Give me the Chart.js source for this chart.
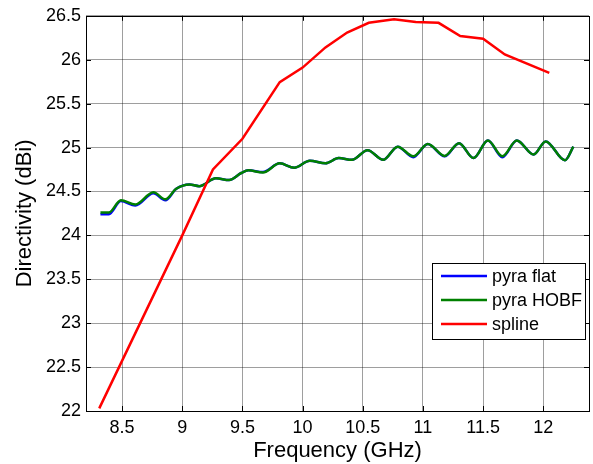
<!DOCTYPE html>
<html>
<head>
<meta charset="utf-8">
<script src="https://cdn.jsdelivr.net/npm/chart.js@4/dist/chart.umd.min.js"></script>
<style>
  html, body { margin: 0; padding: 0; background: #fff; }
  #wrap { width: 593px; height: 464px; }
</style>
</head>
<body>
<div id="wrap"><canvas id="chart" width="593" height="464"></canvas></div>
<script>
// ===== Data =====
const waveFreq = [8.32, 8.39, 8.49, 8.61, 8.76, 8.86, 8.95, 9.06, 9.14, 9.28, 9.39, 9.49, 9.55, 9.67, 9.81, 9.93, 10.06,
  10.19, 10.30, 10.41, 10.54, 10.67, 10.79, 10.92, 11.04, 11.18, 11.30, 11.42, 11.54, 11.66, 11.78, 11.92, 12.02, 12.18, 12.25];
const pyraFlat = [24.24, 24.24, 24.39, 24.34, 24.48, 24.40, 24.53, 24.58, 24.56, 24.65, 24.63, 24.71, 24.74, 24.72, 24.82, 24.77, 24.85,
  24.82, 24.88, 24.86, 24.97, 24.86, 25.01, 24.89, 25.04, 24.90, 25.05, 24.88, 25.08, 24.89, 25.08, 24.92, 25.07, 24.855, 25.01];
const pyraHOBF = [24.26, 24.26, 24.40, 24.35, 24.49, 24.41, 24.53, 24.58, 24.56, 24.65, 24.63, 24.71, 24.74, 24.715, 24.82, 24.77, 24.85,
  24.82, 24.88, 24.86, 24.97, 24.86, 25.01, 24.90, 25.04, 24.905, 25.05, 24.88, 25.08, 24.90, 25.08, 24.92, 25.07, 24.855, 25.01];
const splineFreq = [8.31, 9.0, 9.255, 9.5, 9.81, 10.0, 10.19, 10.37, 10.55, 10.76, 10.94, 11.13, 11.31, 11.5, 11.68, 12.05];
const splineVals = [22.03, 24.0, 24.75, 25.1, 25.745, 25.91, 26.14, 26.31, 26.42, 26.46, 26.43, 26.42, 26.27, 26.24, 26.06, 25.85];
const xTicks = [8.5, 9, 9.5, 10, 10.5, 11, 11.5, 12];
const yTicks = [22, 22.5, 23, 23.5, 24, 24.5, 25, 25.5, 26, 26.5];

const FONT = "'Liberation Sans', Arial, sans-serif";

function pts(xs, ys) { return xs.map((x, i) => ({ x: x, y: ys[i] })); }

// ===== Box, inward ticks and legend (MATLAB style) =====
const matlabFrame = {
  id: 'matlabFrame',
  afterDraw(chart) {
    const ctx = chart.ctx, a = chart.chartArea;
    const sx = chart.scales.x, sy = chart.scales.y;
    ctx.save();
    ctx.strokeStyle = '#000';
    ctx.lineWidth = 1;
    ctx.beginPath();
    xTicks.forEach(v => {
      const px = Math.round(sx.getPixelForValue(v)) + 0.5;
      ctx.moveTo(px, a.bottom); ctx.lineTo(px, a.bottom - 5);
      ctx.moveTo(px, a.top); ctx.lineTo(px, a.top + 5);
    });
    yTicks.forEach(v => {
      const py = Math.round(sy.getPixelForValue(v)) + 0.5;
      ctx.moveTo(a.left, py); ctx.lineTo(a.left + 5, py);
      ctx.moveTo(a.right, py); ctx.lineTo(a.right - 5, py);
    });
    ctx.stroke();
    ctx.strokeRect(Math.round(a.left) + 0.5, Math.round(a.top) + 0.5,
      Math.round(a.right - a.left), Math.round(a.bottom - a.top));

    // legend box
    const lx = 432, ly = 263, lw = 153, lh = 76;
    ctx.fillStyle = '#fff';
    ctx.fillRect(lx, ly, lw, lh);
    ctx.strokeRect(lx + 0.5, ly + 0.5, lw, lh);
    ctx.font = '18px ' + FONT;
    ctx.textBaseline = 'middle';
    chart.data.datasets.forEach((ds, i) => {
      const y = ly + 13 + i * 24;
      ctx.strokeStyle = ds.borderColor;
      ctx.lineWidth = 2.5;
      ctx.beginPath();
      ctx.moveTo(441, y); ctx.lineTo(487, y);
      ctx.stroke();
      ctx.fillStyle = '#000';
      ctx.fillText(ds.label, 492, y + 1);
    });
    ctx.restore();
  }
};

new Chart(document.getElementById('chart'), {
  type: 'line',
  data: {
    datasets: [
      { label: 'pyra flat', data: pts(waveFreq, pyraFlat), borderColor: '#0000ff', borderWidth: 2.5,
        pointRadius: 0, cubicInterpolationMode: 'monotone', order: 3 },
      { label: 'pyra HOBF', data: pts(waveFreq, pyraHOBF), borderColor: '#008000', borderWidth: 2.5,
        pointRadius: 0, cubicInterpolationMode: 'monotone', order: 2 },
      { label: 'spline', data: pts(splineFreq, splineVals), borderColor: '#ff0000', borderWidth: 2.5,
        pointRadius: 0, tension: 0, order: 1 }
    ]
  },
  options: {
    responsive: false,
    animation: false,
    layout: { padding: { top: 13, right: 4, left: 0, bottom: 0 } },
    plugins: { legend: { display: false }, tooltip: { enabled: false } },
    scales: {
      x: {
        type: 'linear', min: 8.2, max: 12.38,
        afterBuildTicks: s => { s.ticks = xTicks.map(v => ({ value: v })); },
        afterFit: s => { s.height = 53; },
        grid: { color: 'rgba(0,0,0,0.38)', drawTicks: false },
        border: { display: false },
        ticks: { color: '#000', font: { family: FONT, size: 18 }, padding: 6, maxRotation: 0,
          callback: v => String(v) },
        title: { display: true, text: 'Frequency (GHz)', color: '#000', font: { family: FONT, size: 22 }, padding: { top: 0, bottom: 0 } }
      },
      y: {
        type: 'linear', min: 22, max: 26.5,
        afterBuildTicks: s => { s.ticks = yTicks.map(v => ({ value: v })); },
        afterFit: s => { s.width = 86; },
        grid: { color: 'rgba(0,0,0,0.38)', drawTicks: false },
        border: { display: false },
        ticks: { color: '#000', font: { family: FONT, size: 18 }, padding: 5,
          callback: v => String(v) },
        title: { display: true, text: 'Directivity (dBi)', color: '#000', font: { family: FONT, size: 22 }, padding: { top: 12, bottom: 0 } }
      }
    }
  },
  plugins: [matlabFrame]
});
</script>
</body>
</html>
